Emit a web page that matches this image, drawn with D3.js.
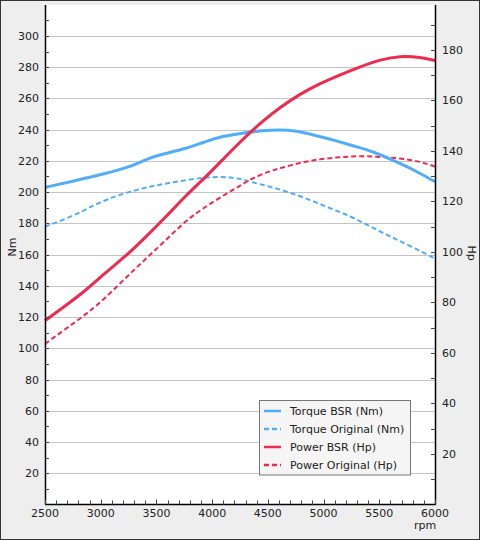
<!DOCTYPE html>
<html><head><meta charset="utf-8">
<script src="https://cdnjs.cloudflare.com/ajax/libs/d3/7.8.5/d3.min.js"></script>
<style>
html,body{margin:0;padding:0;background:#eeeeee;}
svg{display:block;font-family:"DejaVu Sans",sans-serif;}
</style></head>
<body>
<svg id="chart" width="480" height="540"></svg>
<script>
// ---- data ----
const rpmTorqueBSR = [2500,2750,3050,3230,3350,3450,3600,3770,3900,4070,4250,4460,4610,4730,4910,5090,5270,5450,5630,5810,6000];
const torqueBSR    = [203.0,207.0,212.0,215.5,218.9,222.3,225.0,228.0,231.3,235.5,237.6,239.6,239.8,239.6,236.6,233.4,229.5,225.9,220.1,214.3,206.6];

const rpmTorqueOrig = [2500,2750,2900,3050,3230,3410,3590,3770,3950,4070,4160,4250,4340,4520,4700,4880,5060,5240,5420,5600,5780,6000];
const torqueOrig    = [177.9,184.6,190.3,195.2,199.7,203.1,205.6,207.8,209.5,209.8,209.5,208.5,206.7,203.5,199.7,195.0,189.6,184.7,177.9,171.5,165.5,157.4];

const rpmPowerBSR = [2500,2680,2860,3040,3220,3400,3580,3770,3950,4130,4250,4340,4460,4610,4790,4970,5150,5330,5510,5690,5870,6000];
const powerBSR    = [72.8,78.6,84.5,91.8,98.1,105.7,113.7,122.6,130.0,138.2,143.5,147.3,152.0,157.3,162.6,166.8,170.2,173.4,176.2,177.7,177.1,175.8];

const rpmPowerOrig = [2500,2680,2860,3040,3220,3400,3580,3770,3950,4130,4250,4340,4520,4610,4790,4970,5150,5330,5510,5690,5870,6000];
const powerOrig    = [63.6,69.4,75.0,81.7,89.6,97.1,104.5,112.7,118.2,123.2,126.1,128.8,132.1,133.1,135.4,136.8,137.6,138.0,137.7,137.1,135.8,133.8];

const xTicks = [2500,3000,3500,4000,4500,5000,5500,6000];
const leftTicks = [20,40,60,80,100,120,140,160,180,200,220,240,260,280,300];
const rightTicks = [20,40,60,80,100,120,140,160,180];
const legendLabels = ["Torque BSR (Nm)","Torque Original (Nm)","Power BSR (Hp)","Power Original (Hp)"];

// ---- layout ----
const W = 480, H = 540;
const L = 45, R = 435, T = 5, B = 504.5;
const BLUE = "#52acf7", RED = "#ee2a4e";

const svg = d3.select("#chart");
svg.append("rect").attr("x",0.5).attr("y",0.5).attr("width",W-1).attr("height",H-1)
  .attr("fill","#eeeeee").attr("stroke","#333").attr("stroke-width",1);
svg.append("rect").attr("x",L).attr("y",T).attr("width",R-L).attr("height",B-T).attr("fill","#fff");

const x = d3.scaleLinear().domain([2500,6000]).range([L,R]);
const yL = d3.scaleLinear().domain([0,319.8]).range([B,T]);
const yR = d3.scaleLinear().domain([0,197.8]).range([B,T]);

// gridlines
svg.append("g").selectAll("line").data(leftTicks).join("line")
  .attr("x1",L).attr("x2",R).attr("y1",d=>Math.round(yL(d))+0.5).attr("y2",d=>Math.round(yL(d))+0.5)
  .attr("stroke","#c4c4c4").attr("stroke-width",1);

// lines
const mk = (xs, ys, yScale) => d3.line().curve(d3.curveBasis)
  .x((d,i)=>x(xs[i])).y((d,i)=>yScale(ys[i]))(ys);
const plot = svg.append("g");
plot.append("path").attr("d",mk(rpmTorqueOrig,torqueOrig,yL)).attr("fill","none")
  .attr("stroke",BLUE).attr("stroke-width",2).attr("stroke-dasharray","5,3");
plot.append("path").attr("d",mk(rpmPowerOrig,powerOrig,yR)).attr("fill","none")
  .attr("stroke",RED).attr("stroke-width",2).attr("stroke-dasharray","5,3");
plot.append("path").attr("d",mk(rpmTorqueBSR,torqueBSR,yL)).attr("fill","none")
  .attr("stroke",BLUE).attr("stroke-width",3);
plot.append("path").attr("d",mk(rpmPowerBSR,powerBSR,yR)).attr("fill","none")
  .attr("stroke",RED).attr("stroke-width",3);

// axes
const fs = "11px";
// left axis
const gl = svg.append("g");
gl.append("line").attr("x1",L+0.5).attr("x2",L+0.5).attr("y1",T).attr("y2",B).attr("stroke","#000").attr("stroke-width",1.5);
gl.selectAll("line.t").data(d3.range(10,320,10)).join("line").attr("class","t")
  .attr("x1",L).attr("x2",L+4).attr("y1",d=>Math.round(yL(d))+0.5).attr("y2",d=>Math.round(yL(d))+0.5)
  .attr("stroke","#444");
gl.selectAll("text").data(leftTicks).join("text")
  .attr("x",L-6).attr("y",d=>yL(d)).attr("dy","0.36em").attr("text-anchor","end")
  .attr("font-size",fs).attr("fill","#222").text(d=>d);
// right axis
const gr = svg.append("g");
gr.append("line").attr("x1",R+0.5).attr("x2",R+0.5).attr("y1",T).attr("y2",B).attr("stroke","#000").attr("stroke-width",1.5);
gr.selectAll("line.t").data(d3.range(10,200,10)).join("line").attr("class","t")
  .attr("x1",R-4).attr("x2",R).attr("y1",d=>Math.round(yR(d))+0.5).attr("y2",d=>Math.round(yR(d))+0.5)
  .attr("stroke","#444");
gr.selectAll("text").data(rightTicks).join("text")
  .attr("x",R+7).attr("y",d=>yR(d)).attr("dy","0.36em").attr("text-anchor","start")
  .attr("font-size",fs).attr("fill","#222").text(d=>d);
// bottom axis
const gb = svg.append("g");
gb.append("line").attr("x1",L).attr("x2",R+1).attr("y1",B).attr("y2",B).attr("stroke","#000").attr("stroke-width",1.5);
gb.selectAll("line.t").data(d3.range(2500,6001,100)).join("line").attr("class","t")
  .attr("x1",d=>Math.round(x(d))+0.5).attr("x2",d=>Math.round(x(d))+0.5)
  .attr("y1",B).attr("y2",d=>d%500===0?B-5:B-4).attr("stroke","#444");
gb.selectAll("text").data(xTicks).join("text")
  .attr("x",d=>x(d)).attr("y",517).attr("text-anchor","middle")
  .attr("font-size",fs).attr("fill","#222").text(d=>d);

// axis titles
svg.append("text").attr("transform","translate(16,247) rotate(-90)").attr("text-anchor","middle")
  .attr("font-size",fs).attr("fill","#222").text("Nm");
svg.append("text").attr("transform","translate(468,253) rotate(90)").attr("text-anchor","middle")
  .attr("font-size",fs).attr("fill","#222").text("Hp");
svg.append("text").attr("x",425).attr("y",529).attr("text-anchor","middle")
  .attr("font-size",fs).attr("fill","#222").text("rpm");

// legend
const lg = svg.append("g");
lg.append("rect").attr("x",259.5).attr("y",400.5).attr("width",151).attr("height",74.5)
  .attr("fill","#f5f5f5").attr("stroke","#777").attr("stroke-width",1);
const lcol = [BLUE,BLUE,RED,RED], ldash = [null,"5,3",null,"5,3"];
legendLabels.forEach((lab,i)=>{
  const yy = 411 + i*18;
  lg.append("line").attr("x1",264).attr("x2",281).attr("y1",yy).attr("y2",yy)
    .attr("stroke",lcol[i]).attr("stroke-width",2.5).attr("stroke-dasharray",ldash[i]);
  lg.append("text").attr("x",290).attr("y",yy).attr("dy","0.36em")
    .attr("font-size",fs).attr("fill","#222").text(lab);
});
</script>
</body></html>
